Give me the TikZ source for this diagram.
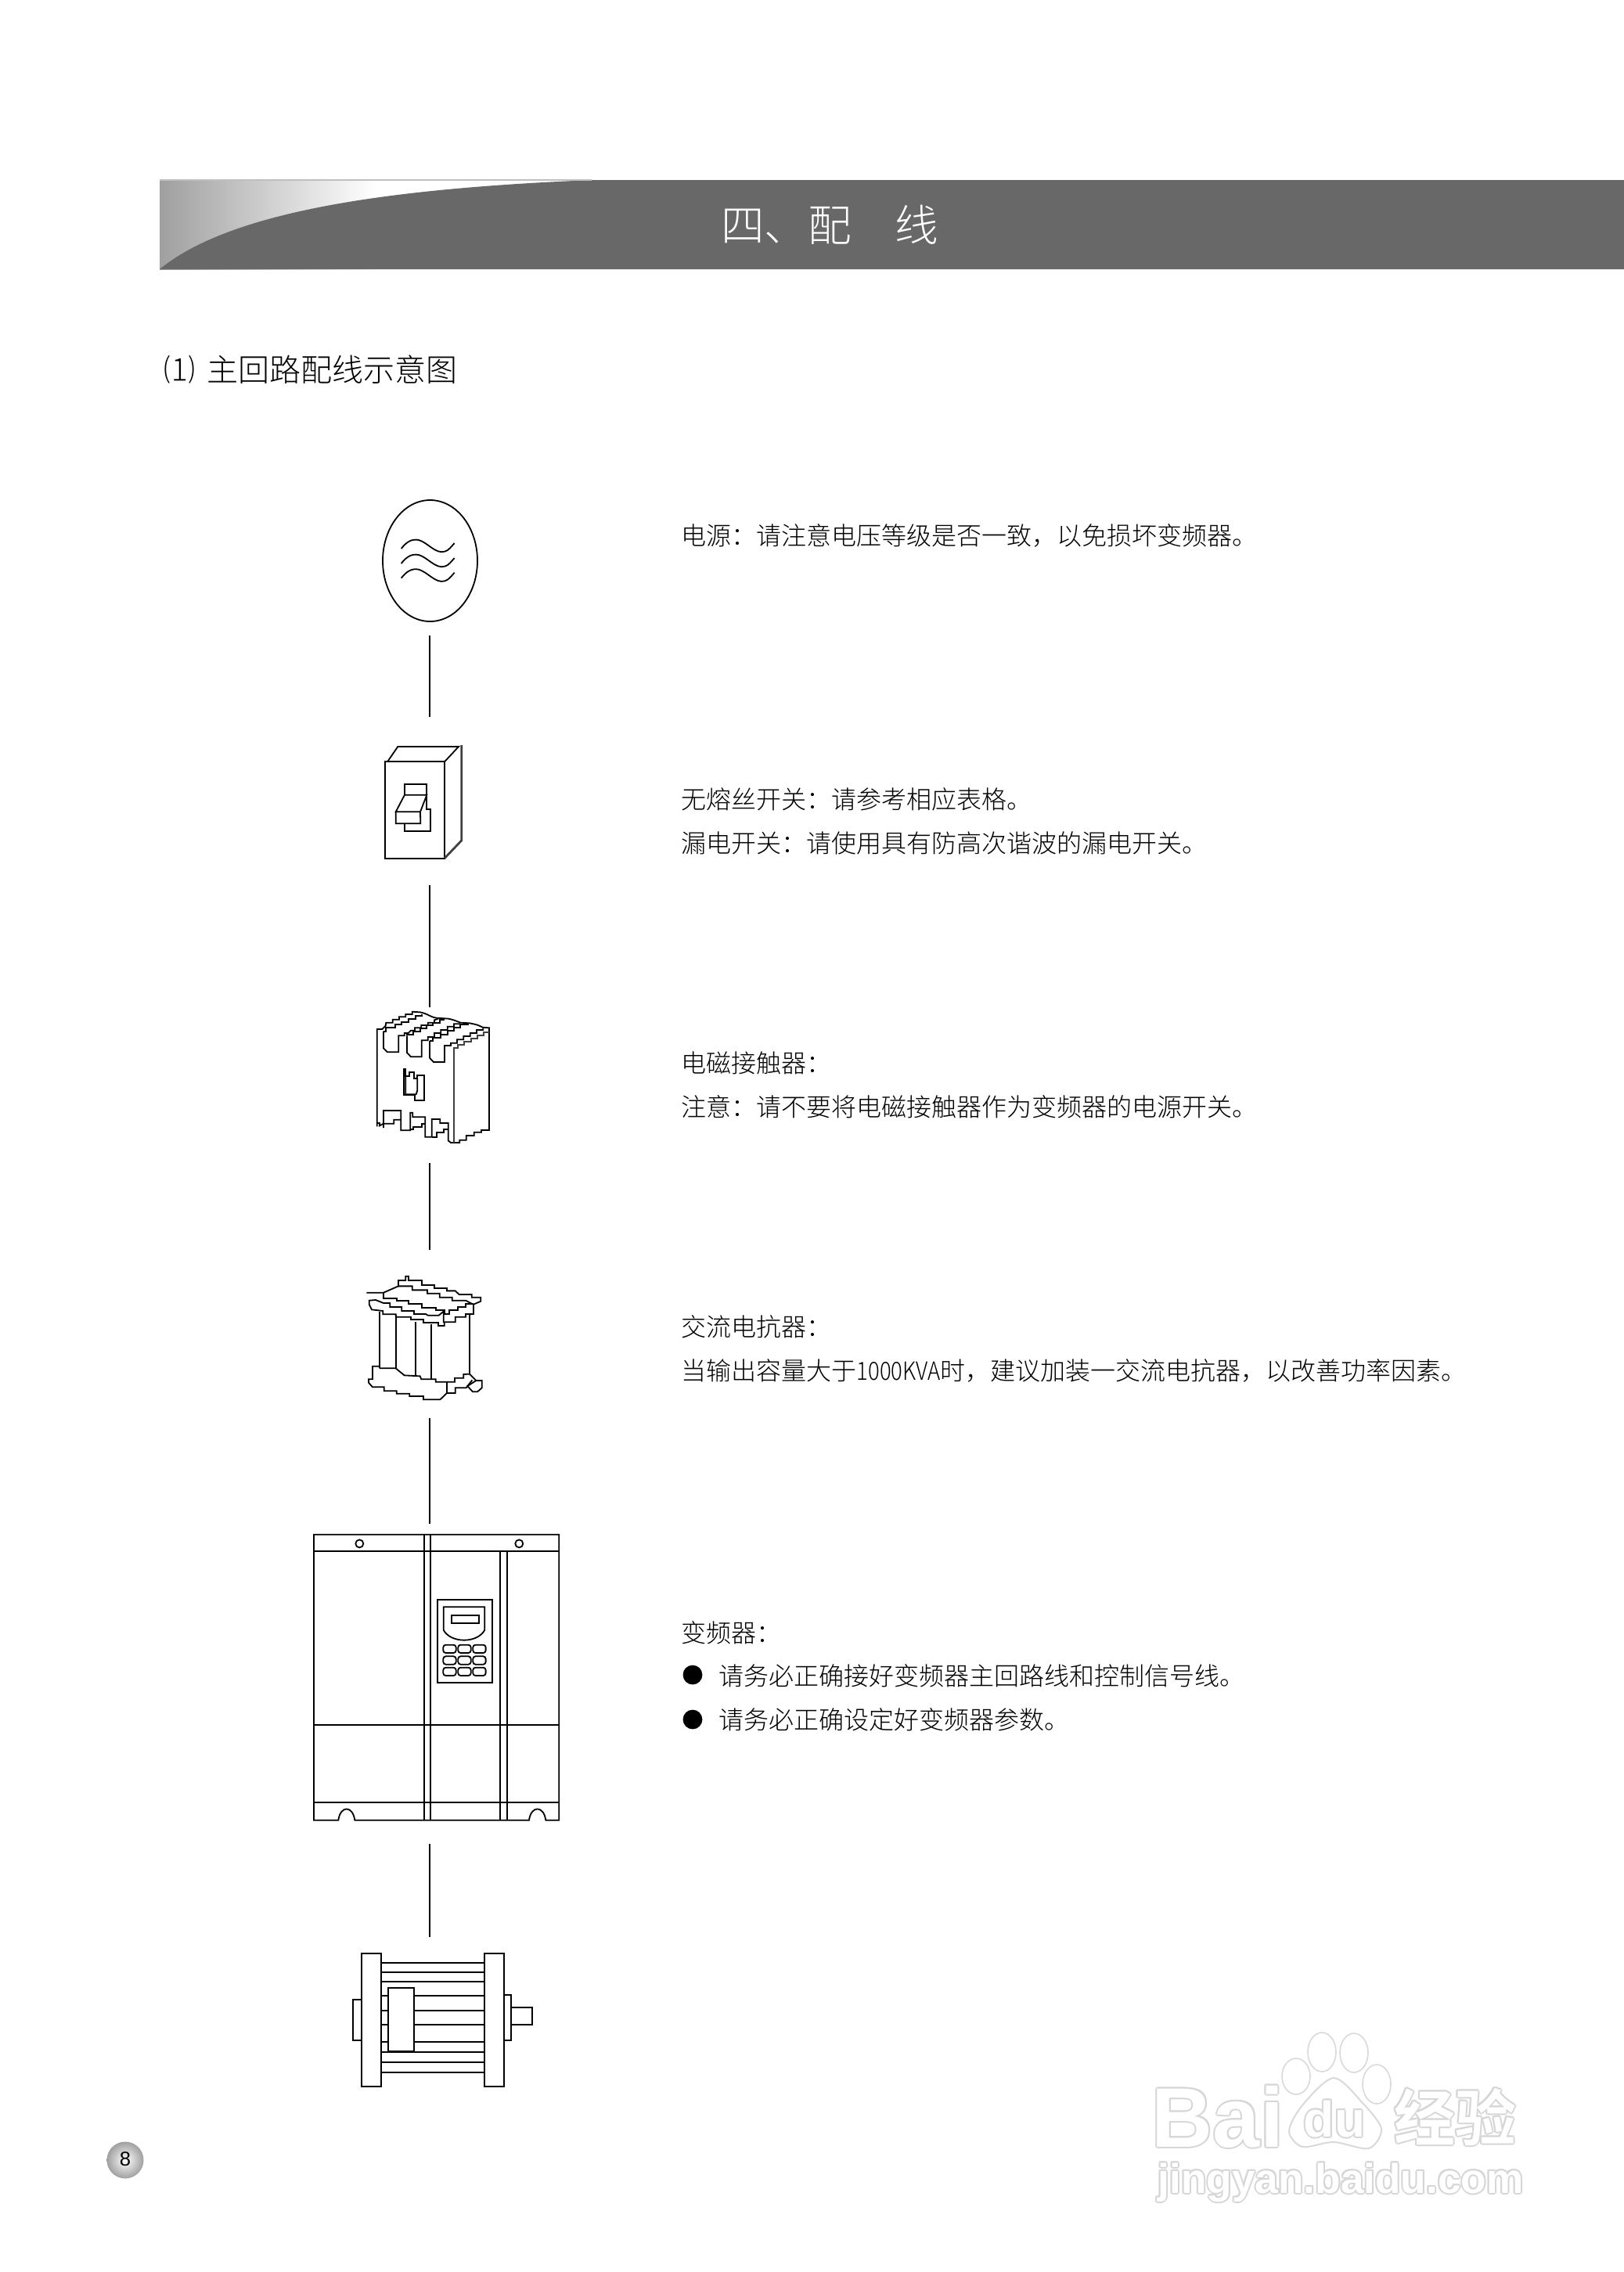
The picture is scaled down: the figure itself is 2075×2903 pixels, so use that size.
\documentclass[tikz,border=0pt]{standalone}
\usepackage{fontspec}
\usetikzlibrary{shapes.geometric}
\newfontfamily\cjk{Noto Sans CJK SC Light}
\newfontfamily\cjkBold{Noto Sans CJK SC Bold}
\newfontfamily\sans{Liberation Sans}
\definecolor{barGray}{HTML}{686868}
\tikzset{
    wire/.style={line width=0.45pt},
    iconLine/.style={line width=0.45pt, line join=miter},
    bodyText/.style={anchor=west, inner sep=0pt, font=\cjk\fontsize{8pt}{9pt}\selectfont},
    bulletDot/.style={circle, fill=black, inner sep=0pt, minimum size=6.2pt},
    wmBack/.style={inner sep=0pt, text=gray!32},
    wmFront/.style={inner sep=0pt, text=white}
}
\newcommand{\wmText}[5]{%
    \foreach \dx/\dy [count=\n] in {-2/0,2/0,0/-2,0/2,-1.5/-1.5,1.5/-1.5,-1.5/1.5,1.5/1.5}{
        \node[wmBack, anchor=#2, font=#3] (#5Back\n) at ([shift={(\dx,\dy)}]#1) {#4};
    }
    \node[wmFront, anchor=#2, font=#3] (#5) at (#1) {#4};
}
\begin{document}
\begin{tikzpicture}[x=0.25pt, y=-0.25pt]
    \useasboundingbox (0,0) rectangle (2075,2903);

    \shade[left color=gray!75, right color=white] (204,230) rectangle (480,344);
    \fill[barGray] (204,344) .. controls (300,265) and (520,240) .. (756,230) -- (2075,230) -- (2075,344) -- cycle;
    \draw[gray!50, line width=0.3pt] (204,230) -- (756,230);
    \node[inner sep=0pt, text=white, font=\cjk\fontsize{13.9pt}{15pt}\selectfont] (title) at (1060,287) {四、配　线};
    \node[bodyText, font=\cjk\fontsize{10pt}{11pt}\selectfont] (subTitle) at (209,472) {⑴ \hspace{1.4pt}主回路配线示意图};

    \node[bodyText] (sourceText) at (870,684.5) {电源：请注意电压等级是否一致，以免损坏变频器。};
    \node[bodyText] (breakerText) at (870,1021.5) {无熔丝开关：请参考相应表格。};
    \node[bodyText] (leakText) at (870,1077.5) {漏电开关：请使用具有防高次谐波的漏电开关。};
    \node[bodyText] (contactorText) at (870,1358.5) {电磁接触器：};
    \node[bodyText] (contactorNote) at (870,1414) {注意：请不要将电磁接触器作为变频器的电源开关。};
    \node[bodyText] (reactorText) at (870,1695) {交流电抗器：};
    \node[bodyText] (reactorNote) at (870,1751) {当输出容量大于\scalebox{0.86}[1]{1000KVA}时，建议加装一交流电抗器，以改善功率因素。};
    \node[bodyText] (driveText) at (870,2086) {变频器：};
    \node[bulletDot] (bulletA) at (885,2140) {};
    \node[bodyText] (driveNoteA) at (918,2141) {请务必正确接好变频器主回路线和控制信号线。};
    \node[bulletDot] (bulletB) at (885,2197) {};
    \node[bodyText] (driveNoteB) at (918,2197) {请务必正确设定好变频器参数。};

    \node[draw, ellipse, wire, minimum width=30.25pt, minimum height=38.75pt, inner sep=0pt] (source) at (549.5,716.5) {};
    \begin{scope}[shift={(470,620)}, scale=0.3333]
        \foreach \dy in {0,57,113}{
            \draw[wire] (128,243+\dy) .. controls (150,215+\dy) and (170,205+\dy) .. (195,210+\dy) .. controls (230,220+\dy) and (260,265+\dy) .. (295,254+\dy) .. controls (310,250+\dy) and (320,235+\dy) .. (332,222+\dy);
        }
    \end{scope}

    \begin{scope}[shift={(440,930)}, scale=0.3333]
        \draw[iconLine] (157,130) rectangle (384,500);
        \draw[iconLine] (165,130) -- (205,72) -- (438,72) -- (384,130);
        \draw[iconLine, line width=0.7pt, black!75] (449,66) -- (449,432) -- (384,500);
        \draw[iconLine] (231,257) -- (231,217) -- (316,217) -- (316,257);
        \draw[iconLine] (231,257) -- (316,257) -- (291,322) -- (197,322) -- cycle;
        \draw[iconLine] (197,322) -- (197,367) -- (292,367) -- (291,322);
        \draw[iconLine] (316,257) -- (316,311) -- (331,311) -- (331,396) -- (231,396) -- (231,367);
    \end{scope}

    \begin{scope}[shift={(440,1270)}, scale=0.3333]
        \draw[iconLine] (125,508) -- (125,135) -- (145,135) -- (158,122) -- (160,110) -- (185,110) -- (185,98) -- (210,98) -- (210,88) -- (235,88) -- (235,78) -- (260,78) -- (260,68) -- (290,70) .. controls (320,75) and (330,90) .. (355,92) -- (400,95) .. controls (420,100) .. (445,110) -- (480,112) .. controls (510,118) .. (530,128) -- (555,130) -- (555,522) -- (525,522) -- (525,530) -- (497,530) -- (497,543) -- (467,543) -- (467,560) -- (442,560) -- (442,570) -- (408,570) -- (398,562) -- (398,495) -- (367,495) -- (367,480) -- (335,480) -- (335,548) -- (310,548) -- (310,472) -- (262,472) -- (262,455) -- (253,455) -- (253,523) -- (217,523) -- (217,447) -- (150,447) -- (150,513);
        \draw[iconLine] (125,495) -- (135,495) -- (135,505) -- (150,497) -- (190,497) -- (190,482) -- (217,482);
        \draw[iconLine] (253,520) -- (265,520) -- (265,510) -- (297,510) -- (297,497) -- (310,497);
        \draw[iconLine] (335,548) -- (353,548) -- (353,532) -- (382,532) -- (382,520) -- (398,520);
        \draw[iconLine] (227,287) -- (227,388) -- (270,388) -- (270,408) -- (306,408) -- (306,311) -- (280,311) -- (280,325) -- (268,325) -- (268,300) -- (250,300) -- (250,315) -- (235,315) -- (235,287) -- cycle;
        \draw[iconLine] (235,315) -- (235,385) -- (275,385) -- (280,370) -- (280,325);
        \draw[iconLine] (150,143) -- (150,208) -- (165,223) -- (208,223) -- (208,160) -- (230,160) -- (230,150) -- (245,150) -- (255,140) -- (270,140) -- (270,130) -- (295,130) -- (295,120) -- (320,120) -- (320,110) -- (345,110) -- (345,100) -- (360,95);
        \draw[iconLine] (150,143) -- (160,143) -- (160,130) -- (195,130) -- (195,118) -- (220,118) -- (220,108) -- (247,108) -- (247,96) -- (272,96) -- (272,85) -- (297,85) -- (297,78);
        \draw[iconLine] (240,160) -- (240,225) -- (255,241) -- (296,241) -- (296,178) -- (320,178) -- (320,165) -- (345,165) -- (345,150) -- (370,150) -- (370,138) -- (395,138) -- (395,125) -- (420,125) -- (420,115) -- (445,115);
        \draw[iconLine] (240,160) -- (240,155) -- (265,155) -- (265,143) -- (290,143) -- (290,132) -- (315,132) -- (315,120) -- (340,120) -- (340,110) -- (365,110) -- (365,98) -- (385,98);
        \draw[iconLine] (327,180) -- (327,245) -- (342,261) -- (384,261) -- (384,198) -- (408,198) -- (408,188) -- (432,188) -- (432,175) -- (457,175) -- (457,162) -- (482,162) -- (482,150) -- (507,150) -- (507,138) -- (532,138) -- (532,130);
        \draw[iconLine] (327,180) -- (340,180) -- (340,168) -- (370,168) -- (370,155) -- (395,155) -- (395,142) -- (420,142) -- (420,130) -- (445,130) -- (445,118) -- (475,118) -- (475,112);
        \draw[iconLine, black!75] (420,570) -- (420,208) -- (435,208) -- (435,195) -- (460,195) -- (460,182) -- (485,182) -- (485,170) -- (510,170) -- (510,158) -- (535,158) -- (535,147) -- (555,147);
    \end{scope}

    \begin{scope}[shift={(440,1610)}, scale=0.3333]
        \draw[iconLine] (85,125) -- (150,125) -- (207,100) -- (207,78) -- (235,78) -- (235,62) -- (246,62) -- (246,78) -- (297,78) -- (297,96) -- (345,96) -- (345,108) -- (393,108) -- (393,118) -- (425,118) -- (440,132) -- (488,132) -- (488,143) -- (523,143) -- (523,158) -- (495,170) -- (495,207) -- (465,207) -- (465,218) -- (425,218) -- (425,238) -- (383,238) -- (383,252) -- (360,252) -- (360,240) -- (303,240) -- (303,228) -- (255,228) -- (255,218) -- (197,218) -- (197,208) -- (148,208) -- (148,195) -- (105,190) -- (95,170) -- (95,155) -- (120,153) -- (150,165) -- (175,165) -- (175,180) -- (220,180) -- (220,195) -- (267,195) -- (267,207) -- (312,207) -- (320,212) -- (362,212) -- (380,197) -- (380,240);
        \draw[iconLine] (150,125) -- (150,148) -- (200,148) -- (200,155) -- (247,155) -- (247,168) -- (297,168) -- (297,182) -- (350,182) -- (350,192) -- (383,192) -- (383,207) -- (403,207) -- (403,192) -- (435,192) -- (435,180) -- (465,180) -- (465,168) -- (495,168);
        \draw[iconLine] (207,100) -- (260,100) -- (260,115) -- (318,115) -- (318,128) -- (365,128) -- (365,143) -- (413,143) -- (413,155) -- (465,155) -- (490,168);
        \draw[iconLine] (134,197) -- (134,415);
        \draw[iconLine] (197,210) -- (197,415);
        \draw[iconLine] (272,238) -- (272,445);
        \draw[iconLine] (332,245) -- (332,457);
        \draw[iconLine] (480,210) -- (480,437);
        \draw[iconLine] (134,415) -- (197,415) -- (230,442) -- (290,445) -- (295,457) -- (350,457) -- (350,467) -- (423,467) -- (423,452) -- (457,452) -- (457,438) -- (480,437) -- (505,462) -- (527,462) -- (527,490) -- (510,505) -- (492,505) -- (472,483) -- (505,462);
        \draw[iconLine] (134,407) -- (108,407) -- (108,457) -- (93,457) -- (93,470) -- (108,487) -- (152,487) -- (152,502) -- (200,502) -- (200,512) -- (250,512) -- (250,522) -- (303,522) -- (303,535) -- (367,535) -- (393,510) -- (393,467);
        \draw[iconLine] (393,510) -- (425,510) -- (425,490) -- (467,490) -- (490,460);
    \end{scope}

    \begin{scope}[shift={(390,1940)}, scale=0.3333]
        \foreach \y in {127,792,1090}{
            \draw[iconLine] (33,\y) -- (973,\y);
        }
        \foreach \x in {455,481}{
            \draw[iconLine] (\x,62) -- (\x,1157);
        }
        \foreach \x in {747,773}{
            \draw[iconLine] (\x,127) -- (\x,1157);
        }
        \draw[iconLine] (33,1157) -- (127,1157) .. controls (135,1100) and (182,1100) .. (190,1157) -- (858,1157) .. controls (866,1100) and (914,1100) .. (922,1157) -- (973,1157) -- (973,62) -- (33,62) -- cycle;
        \draw[iconLine] (208,97) circle[radius=15];
        \draw[iconLine] (820,97) circle[radius=15];
        \draw[iconLine] (508,312) rectangle (716,629);
        \draw[iconLine] (530,340) -- (688,340) -- (688,428) .. controls (660,480) and (558,480) .. (530,428) -- cycle;
        \draw[iconLine] (562,371) rectangle (665,401);
        \foreach \x in {529,586,643}{
            \foreach \y in {485,529,572}{
                \draw[iconLine, rounded corners=0.8pt] (\x,\y) rectangle (\x+49,\y+31);
            }
        }
    \end{scope}

    \begin{scope}[shift={(430,2470)}, scale=0.3333]
        \foreach \y in {114,150,186,240,297,350,416,457,495,535}{
            \draw[iconLine] (170,\y) -- (566,\y);
        }
        \draw[iconLine] (95,78) rectangle (170,589);
        \draw[iconLine] (566,78) rectangle (641,589);
        \draw[iconLine] (63,256) rectangle (95,412);
        \draw[iconLine] (641,236) rectangle (668,412);
        \draw[iconLine] (668,285) rectangle (751,350);
        \draw[iconLine, fill=white] (197,211) rectangle (296,454);
    \end{scope}

    \coordinate (sourceEnd) at (548.7,812);
    \coordinate (breakerTop) at (548.7,916);
    \coordinate (breakerEnd) at (548.7,1131);
    \coordinate (contactorTop) at (548.7,1287);
    \coordinate (contactorEnd) at (548.7,1486);
    \coordinate (reactorTop) at (548.7,1597);
    \coordinate (reactorEnd) at (548.7,1812);
    \coordinate (driveTop) at (548.7,1947);
    \coordinate (driveEnd) at (548.7,2356);
    \coordinate (motorTop) at (548.7,2475);
    \draw[wire] (sourceEnd) -- (breakerTop);
    \draw[wire] (breakerEnd) -- (contactorTop);
    \draw[wire] (contactorEnd) -- (reactorTop);
    \draw[wire] (reactorEnd) -- (driveTop);
    \draw[wire] (driveEnd) -- (motorTop);

    \shade[inner color=white, outer color=gray!75] (160,2760) circle[radius=23.5];
    \node[inner sep=0pt, font=\sans\fontsize{6.4pt}{7pt}\selectfont] (pageNumber) at (160,2759) {8};

    \wmText{1556,2743}{base}{\sans\bfseries\fontsize{27pt}{30pt}\selectfont}{Bai}{wmBai}
    \foreach \cx/\cy/\ry in {1656/2653/23,1689/2622/25,1730/2623/25,1759/2663/25}{
        \draw[gray!30, fill=white, line width=0.4pt] (\cx,\cy) ellipse[x radius=18, y radius=\ry];
    }
    \draw[gray!30, fill=white, line width=0.5pt] plot[smooth cycle] coordinates {(1704,2655) (1664,2690) (1647,2723) (1664,2743) (1704,2737) (1749,2745) (1765,2720) (1741,2687)};
    \wmText{1705,2730}{base}{\sans\bfseries\fontsize{16pt}{18pt}\selectfont}{du}{wmDu}
    \wmText{1859,2705}{center}{\cjkBold\fontsize{19.5pt}{21pt}\selectfont}{经验}{wmJing}
    \wmText{1713,2802}{base}{\sans\bfseries\fontsize{13.3pt}{15pt}\selectfont}{jingyan.baidu.com}{wmUrl}
\end{tikzpicture}
\end{document}
